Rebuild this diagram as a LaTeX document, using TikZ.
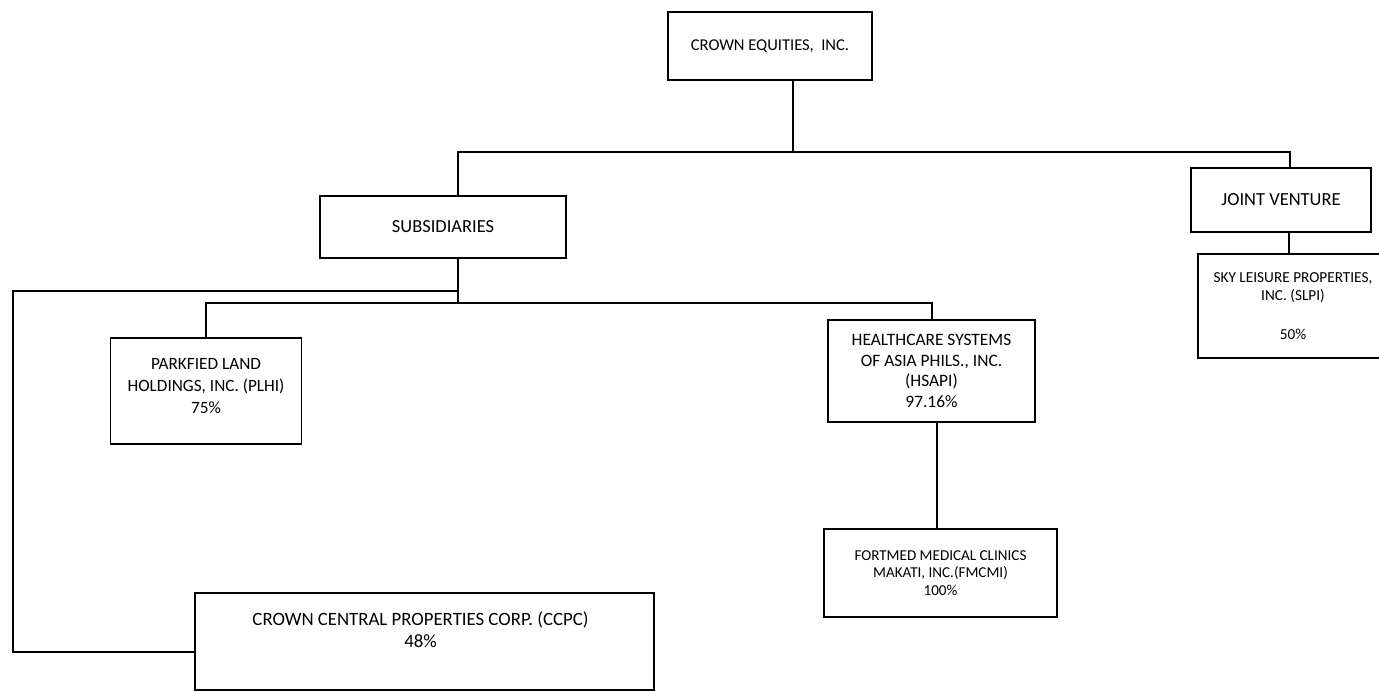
\documentclass[tikz,border=0pt]{standalone}
\usepackage{fontspec}
\setmainfont{Carlito}
\usetikzlibrary{positioning}

\begin{document}
\begin{tikzpicture}[
    x=0.02cm, y=-0.02cm,
    orgbox/.style={rectangle, draw=black, line width=0.8pt, align=center,
                   font=\fontsize{10.5}{13}\selectfont, inner sep=2pt},
    boxtext/.style={align=center, font=\fontsize{9.8}{12.5}\selectfont, inner sep=0pt},
    link/.style={draw=black, line width=1pt},
  ]
    \useasboundingbox (0,0) rectangle (1379,692);

    % top level
    \node[orgbox, minimum width=4.08cm, minimum height=1.36cm, font=\fontsize{9.4}{11}\selectfont] (ce) at (770,46) {CROWN EQUITIES,\ \ INC.};
    \node[orgbox, minimum width=4.92cm, minimum height=1.24cm] (sub) at (443,227) {SUBSIDIARIES};
    \node[orgbox, minimum width=3.6cm, minimum height=1.28cm] (jv) at (1281,200) {JOINT VENTURE};
    \node[orgbox, minimum width=3.8cm, minimum height=2.08cm, font=\fontsize{8.7}{10.2}\selectfont] (slpi) at (1293,306)
      {SKY LEISURE PROPERTIES,\\INC. (SLPI)\\[12pt]50\%};

    % subsidiaries
    \node[orgbox, minimum width=3.82cm, minimum height=2.12cm] (plhi) at (206,391) {};
    \node[boxtext] at ([yshift=0.1cm]plhi.center) {PARKFIED LAND\\HOLDINGS, INC. (PLHI)\\75\%};
    \node[orgbox, minimum width=4.14cm, minimum height=2.04cm, font=\fontsize{9.9}{11.7}\selectfont] (hsapi) at (931.5,371)
      {HEALTHCARE SYSTEMS\\OF ASIA PHILS., INC.\\(HSAPI)\\97.16\%};
    \node[orgbox, minimum width=4.66cm, minimum height=1.76cm, font=\fontsize{8.6}{10}\selectfont] (fmcmi) at (940.5,573)
      {FORTMED MEDICAL CLINICS\\MAKATI, INC.(FMCMI)\\100\%};
    \node[orgbox, minimum width=9.18cm, minimum height=1.94cm] (ccpc) at (424.5,641.5) {};
    \node[boxtext, font=\fontsize{10.7}{12.5}\selectfont] at ([xshift=-0.08cm,yshift=0.24cm]ccpc.center)
      {CROWN CENTRAL PROPERTIES CORP. (CCPC)\\48\%};

    % connectors
    \coordinate (ceBus) at (793,152);
    \coordinate (outBus) at (458,291);
    \coordinate (inBus) at (458,303);
    \coordinate (ccpcTurn) at (13,652);

    \draw[link] (ceBus |- ce.south) -- (ceBus);
    \draw[link] ([xshift=0.3cm]sub.north) |- (ceBus) -| ([xshift=0.18cm]jv.north);
    \draw[link] ([xshift=0.3cm]sub.south) -- (inBus);
    \draw[link] (outBus) -| (ccpcTurn) -- (ccpc.west |- ccpcTurn);
    \draw[link] (plhi.north) |- (inBus) -| ([xshift=0.01cm]hsapi.north);
    \draw[link] ([xshift=0.11cm]hsapi.south) -- ([xshift=0.11cm]hsapi.south |- fmcmi.north);
    \draw[link] ([xshift=0.16cm]jv.south) -- ([xshift=0.16cm]jv.south |- slpi.north);
  \end{tikzpicture}
\end{document}
